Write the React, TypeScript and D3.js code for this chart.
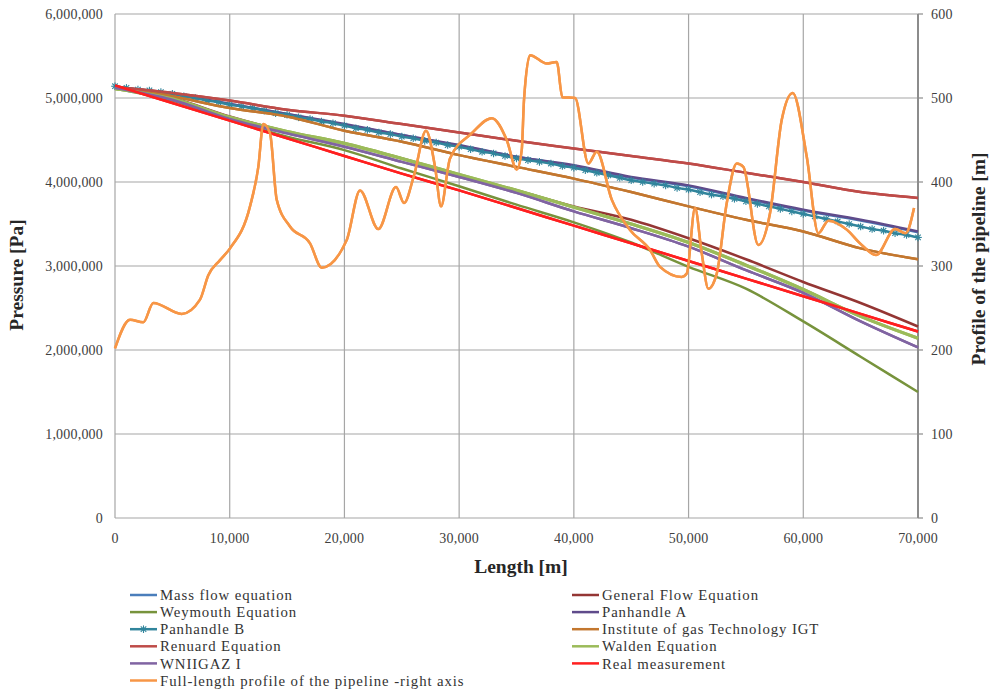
import React from "react";
import * as d3 from "d3";

// ---------- data ----------
const lengths5k = [0, 5000, 10000, 15000, 20000, 25000, 30000, 35000, 40000, 45000, 50000, 55000, 60000, 65000, 70000];

const massFlow = [5.13, 5.05, 4.93, 4.81, 4.68, 4.56, 4.43, 4.30, 4.19, 4.05, 3.95, 3.80, 3.66, 3.54, 3.40];
const generalFlow = [5.12, 5.00, 4.78, 4.60, 4.46, 4.28, 4.08, 3.90, 3.71, 3.55, 3.33, 3.08, 2.81, 2.56, 2.28];
const weymouth = [5.11, 4.97, 4.74, 4.54, 4.38, 4.16, 3.95, 3.73, 3.52, 3.28, 2.99, 2.73, 2.34, 1.92, 1.50];
const panhandleA = [5.13, 5.05, 4.93, 4.81, 4.69, 4.56, 4.44, 4.30, 4.20, 4.06, 3.96, 3.81, 3.67, 3.55, 3.41];
const igt = [5.13, 5.02, 4.88, 4.78, 4.61, 4.48, 4.32, 4.18, 4.04, 3.88, 3.71, 3.55, 3.41, 3.21, 3.08];
const renuard = [5.13, 5.06, 4.97, 4.86, 4.79, 4.69, 4.59, 4.49, 4.40, 4.31, 4.22, 4.11, 4.00, 3.88, 3.81];
const walden = [5.11, 4.99, 4.77, 4.60, 4.46, 4.28, 4.09, 3.90, 3.70, 3.50, 3.28, 3.01, 2.72, 2.40, 2.14];
const wniigaz = [5.12, 4.98, 4.75, 4.58, 4.42, 4.24, 4.06, 3.87, 3.65, 3.45, 3.23, 2.95, 2.68, 2.34, 2.03];
const realMeasurement = [5.15, 4.94, 4.73, 4.52, 4.31, 4.10, 3.90, 3.69, 3.48, 3.27, 3.06, 2.85, 2.64, 2.43, 2.22];

const lengths1k = d3.range(0, 70001, 1000);
const panhandleB = [
  5.14, 5.12, 5.10, 5.09, 5.07, 5.05,
  5.02, 5.00, 4.97, 4.95, 4.92,
  4.90, 4.88, 4.85, 4.82, 4.80,
  4.77, 4.75, 4.72, 4.70, 4.67,
  4.64, 4.62, 4.59, 4.57, 4.54,
  4.52, 4.49, 4.47, 4.44, 4.42,
  4.39, 4.36, 4.34, 4.31, 4.28,
  4.26, 4.24, 4.22, 4.19, 4.17,
  4.14, 4.11, 4.08, 4.05, 4.02,
  4.00, 3.98, 3.96, 3.93, 3.91,
  3.88, 3.85, 3.83, 3.80, 3.77,
  3.74, 3.71, 3.68, 3.65, 3.62,
  3.59, 3.56, 3.53, 3.50, 3.47,
  3.44, 3.42, 3.39, 3.37, 3.34,
];

const profileLength = [
  0, 1308, 2467, 3339, 5815, 7410, 8134, 9154, 10026, 11769, 12493, 12929, 13513, 14097, 15256,
  17000, 18020, 20200, 21359, 22954, 24498, 25195, 26067, 27113, 27898, 28421, 29205, 31097,
  32840, 34148, 35020, 35456, 35656, 36180, 37636, 38507, 38996, 40103, 41263, 41995, 43303,
  44898, 46642, 47513, 49405, 49841, 50565, 51149, 51724, 52457, 53329, 54200, 54776, 56083,
  57103, 58123, 59082, 60303, 61314, 62186, 63816, 64949, 66344, 68000, 68916, 69655,
];
const profileHeight = [
  202, 236, 233, 256, 243, 260, 289, 307, 321, 371, 418, 469, 458, 379, 347,
  327, 298, 331, 390, 344, 394, 375, 408, 461, 418, 371, 428, 458,
  476, 450, 415, 438, 498, 551, 541, 543, 501, 500, 422, 436, 379,
  343, 319, 299, 287, 291, 369, 315, 273, 291, 375, 422, 418, 325,
  363, 474, 506, 430, 339, 354, 343, 327, 313, 344, 339, 369,
];

const xTicks = [0, 10000, 20000, 30000, 40000, 50000, 60000, 70000];
const yTicks = [0, 1000000, 2000000, 3000000, 4000000, 5000000, 6000000];
const y2Ticks = [0, 100, 200, 300, 400, 500, 600];

type Series = { name: string; x: number[]; v: number[]; color: string; width: number; marker?: boolean; right?: boolean };

const seriesList: Series[] = [
  { name: "Mass flow equation", x: lengths5k, v: massFlow, color: "#4a7ebb", width: 2.5 },
  { name: "General Flow Equation", x: lengths5k, v: generalFlow, color: "#943634", width: 2.5 },
  { name: "Weymouth Equation", x: lengths5k, v: weymouth, color: "#77933c", width: 2.5 },
  { name: "Panhandle A", x: lengths5k, v: panhandleA, color: "#5f4b8b", width: 2.5 },
  { name: "Panhandle B", x: lengths1k, v: panhandleB, color: "#31859c", width: 2.5, marker: true },
  { name: "Institute of gas Technology IGT", x: lengths5k, v: igt, color: "#c3772f", width: 2.5 },
  { name: "Renuard Equation", x: lengths5k, v: renuard, color: "#be4b48", width: 2.5 },
  { name: "Walden Equation", x: lengths5k, v: walden, color: "#9bbb59", width: 3.2 },
  { name: "WNIIGAZ I", x: lengths5k, v: wniigaz, color: "#8064a2", width: 2.5 },
  { name: "Real measurement", x: lengths5k, v: realMeasurement, color: "#ff1f1f", width: 2.5 },
  { name: "Full-length profile of the pipeline -right axis", x: profileLength, v: profileHeight, color: "#f79646", width: 2.5, right: true },
];

// ---------- layout ----------
const W = 990;
const H = 693;
const L = 115;
const R = 918;
const T = 14;
const B = 518;
const FONT = "'Liberation Serif', 'Times New Roman', serif";

const xScale = d3.scaleLinear().domain([0, 70000]).range([L, R]);
const yScale = d3.scaleLinear().domain([0, 6000000]).range([B, T]);
const y2Scale = d3.scaleLinear().domain([0, 600]).range([B, T]);
const fmt = d3.format(",");

function Star({ x, y, c }: { x: number; y: number; c: string }) {
  const r = 3.8;
  const d = r * 0.72;
  return (
    <g stroke={c} strokeWidth={1.1}>
      <line x1={x - r} y1={y} x2={x + r} y2={y} />
      <line x1={x} y1={y - r} x2={x} y2={y + r} />
      <line x1={x - d} y1={y - d} x2={x + d} y2={y + d} />
      <line x1={x - d} y1={y + d} x2={x + d} y2={y - d} />
    </g>
  );
}

export default function App() {
  const lineP = (s: Series) => {
    const gen = d3
      .line<number>()
      .x((_, i) => xScale(s.x[i]))
      .y((v) => (s.right ? y2Scale(v) : yScale(v * 1e6)))
      .curve(d3.curveMonotoneX);
    return gen(s.v) || "";
  };

  return (
    <div style={{ position: "absolute", left: 0, top: 0 }}>
      <svg width={W} height={H} style={{ display: "block", background: "#fff" }} fontFamily={FONT}>
        {/* grid */}
        {yTicks.map((t) => (
          <line key={"gy" + t} x1={L} x2={R} y1={yScale(t)} y2={yScale(t)} stroke="#a6a6a6" strokeWidth={1.2} />
        ))}
        {xTicks.map((t) => (
          <line key={"gx" + t} x1={xScale(t)} x2={xScale(t)} y1={T} y2={B} stroke="#a6a6a6" strokeWidth={1.2} />
        ))}
        {/* right axis */}
        <line x1={R} x2={R} y1={T} y2={B} stroke="#8c8c8c" strokeWidth={2} />
        {y2Ticks.map((t) => (
          <line key={"t2" + t} x1={R} x2={R + 5} y1={y2Scale(t)} y2={y2Scale(t)} stroke="#8c8c8c" strokeWidth={1.2} />
        ))}

        {/* series */}
        {seriesList.map((s) => (
          <path key={s.name} d={lineP(s)} fill="none" stroke={s.color} strokeWidth={s.width} strokeLinejoin="round" />
        ))}
        {seriesList
          .filter((s) => s.marker)
          .map((s) =>
            s.v.map((v, i) => <Star key={s.name + i} x={xScale(s.x[i])} y={yScale(v * 1e6)} c={s.color} />)
          )}
        {/* later series drawn again above the markers */}
        {seriesList.slice(5).map((s) => (
          <path key={"top" + s.name} d={lineP(s)} fill="none" stroke={s.color} strokeWidth={s.width} strokeLinejoin="round" />
        ))}

        {/* tick labels */}
        {yTicks.map((t) => (
          <text key={"ly" + t} x={103} y={yScale(t)} dy="0.35em" textAnchor="end" fontSize={14} letterSpacing={0.2} fill="#404040">
            {fmt(t)}
          </text>
        ))}
        {y2Ticks.map((t) => (
          <text key={"ly2" + t} x={931} y={y2Scale(t)} dy="0.35em" textAnchor="start" fontSize={14} letterSpacing={0.2} fill="#404040">
            {fmt(t)}
          </text>
        ))}
        {xTicks.map((t) => (
          <text key={"lx" + t} x={xScale(t)} y={538} dy="0.35em" textAnchor="middle" fontSize={14} letterSpacing={0.2} fill="#404040">
            {fmt(t)}
          </text>
        ))}

        {/* axis titles */}
        <text x={521} y={566} dy="0.35em" textAnchor="middle" fontSize={19.5} fontWeight="bold" fill="#262626">
          Length [m]
        </text>
        <text transform={`translate(16,275) rotate(-90)`} dy="0.35em" textAnchor="middle" fontSize={19.5} fontWeight="bold" fill="#262626">
          Pressure [Pa]
        </text>
        <text transform={`translate(978,259) rotate(-90)`} dy="0.35em" textAnchor="middle" fontSize={19.5} fontWeight="bold" fill="#262626">
          Profile of the pipeline [m]
        </text>

        {/* legend */}
        {seriesList.map((s, i) => {
          const col = i % 2;
          const row = Math.floor(i / 2);
          const x0 = col === 0 ? 130 : 572;
          const yy = 595 + row * 17.1;
          return (
            <g key={"lg" + s.name}>
              <line x1={x0} x2={x0 + 27} y1={yy} y2={yy} stroke={s.color} strokeWidth={2.5} />
              {s.marker && <Star x={x0 + 13.5} y={yy} c={s.color} />}
              <text x={x0 + 30} y={yy} dy="0.35em" fontSize={14.8} letterSpacing={0.9} fill="#333">
                {s.name}
              </text>
            </g>
          );
        })}
      </svg>
    </div>
  );
}
